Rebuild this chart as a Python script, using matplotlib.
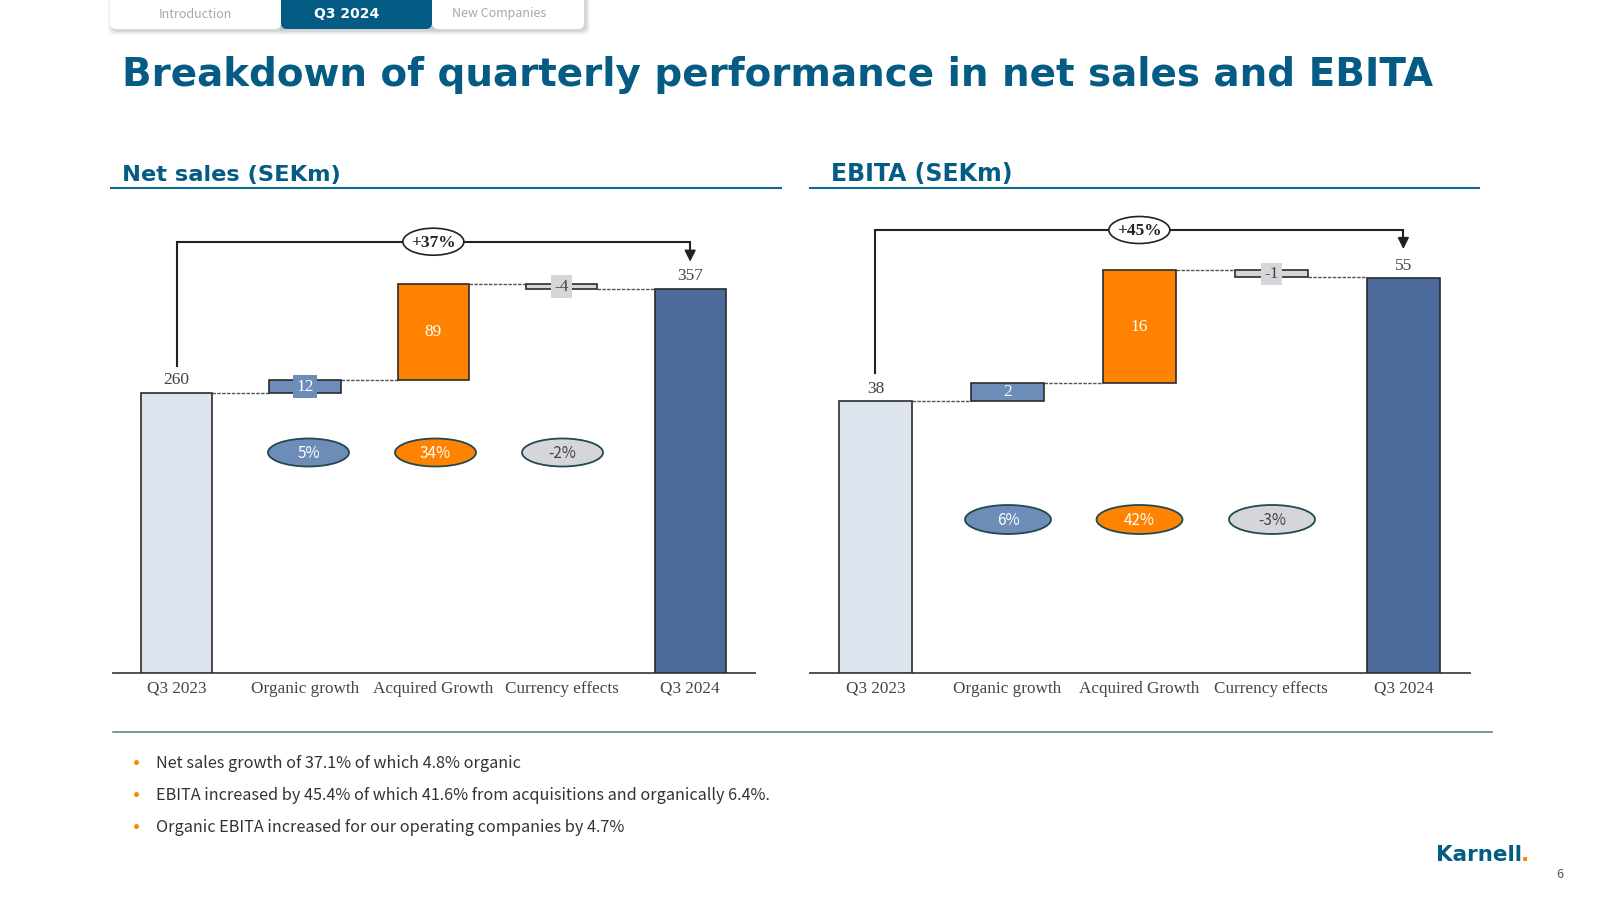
import matplotlib
matplotlib.use('Agg')
import matplotlib.pyplot as plt
from matplotlib.patches import Ellipse, FancyBboxPatch

categories = ['Q3 2023', 'Organic growth', 'Acquired Growth', 'Currency effects', 'Q3 2024']
sales_values = [260, 12, 89, -4, 357]
sales_labels = ['260', '12', '89', '-4', '357']
ebita_values = [37.9, 2.5, 15.8, -1.0, 55.1]
ebita_labels = ['38', '2', '16', '-1', '55']
sales_pct = ['5%', '34%', '-2%']
ebita_pct = ['6%', '42%', '-3%']
sales_total = '+37%'
ebita_total = '+45%'
tabs = ['Introduction', 'Q3 2024', 'New Companies']
bullets = ['Net sales growth of 37.1% of which 4.8% organic',
           'EBITA increased by 45.4% of which 41.6% from acquisitions and organically 6.4%.',
           'Organic EBITA increased for our operating companies by 4.7%']

BLUE = '#045c84'
LIGHT = '#dde4ee'
DARK = '#4d6b9a'
MID = '#6d8cb8'
ORANGE = '#ff8200'
GREY = '#d5d6d9'
SERIF = 'Liberation Serif'
SANS = 'Noto Sans CJK SC'

bar_colors = [LIGHT, MID, ORANGE, GREY, DARK]
text_colors = ['#444444', 'white', 'white', '#444444', '#444444']

fig = plt.figure(figsize=(16, 9), dpi=100)

# page layer in pixel coordinates, for everything that is not a bar
page = fig.add_axes([0, 0, 1, 1], zorder=5)
page.set_xlim(0, 1600)
page.set_ylim(900, 0)
page.axis('off')
page.patch.set_alpha(0)


def waterfall(values, labels, pct, total, left, right, ymax, x_pct, y_pct, pct_w, pct_h, line_y, start_y, arrow_y):
    ax = fig.add_axes([left / 1600, (900 - 672.5) / 900, (right - left) / 1600, (672.5 - 200) / 900])
    ax.set_xlim(-0.495, 4.505)
    ax.set_ylim(0, ymax)
    ax.patch.set_alpha(0)
    for s in ['top', 'left', 'right']:
        ax.spines[s].set_visible(False)
    ax.spines['bottom'].set_color('#444444')
    ax.spines['bottom'].set_linewidth(1.3)
    ax.set_yticks([])
    ax.set_xticks(range(5))
    ax.set_xticklabels(categories, fontfamily=SERIF, fontsize=12.3, color='#444444')
    ax.tick_params(axis='x', length=0, pad=6)

    # running level for the steps in the middle
    level = values[0]
    width = 0.555
    for i, v in enumerate(values):
        if i == 0 or i == 4:
            bottom = 0
            height = v
        else:
            bottom = min(level, level + v)
            height = abs(v)
        ax.bar(i, height, width=width, bottom=bottom, color=bar_colors[i], edgecolor='#2b2b2b', linewidth=1.2, zorder=3)
        # dashed link to the previous bar
        if i > 0:
            ax.plot([i - 1 + width / 2, i - width / 2], [level, level], color='#555555', lw=1, ls=(0, (2.5, 1)), zorder=2)
        if 0 < i < 4:
            level = level + v
        top = bottom + height
        if i == 0 or i == 4:
            ax.annotate(labels[i], (i, top), xytext=(0, 9), textcoords='offset points', ha='center', va='center',
                        family=SERIF, fontsize=12.5, color='#444444')
        else:
            box = None
            if height / ymax < 0.03:
                box = dict(facecolor=bar_colors[i], edgecolor='none', pad=2.2)
            ax.text(i, bottom + height / 2, labels[i], ha='center', va='center', family=SERIF, fontsize=12.5,
                    color=text_colors[i], bbox=box, zorder=4)

    # total growth bracket
    to_px = lambda i: left + (i + 0.495) * (right - left) / 5
    page.plot([to_px(0), to_px(0), to_px(4), to_px(4)], [start_y, line_y, line_y, arrow_y - 10], color='#222222', lw=1.5, solid_joinstyle='miter')
    page.annotate('', xy=(to_px(4), arrow_y), xytext=(to_px(4), arrow_y - 11),
                  arrowprops=dict(arrowstyle='-|>', color='#222222', lw=1.2, mutation_scale=17, shrinkA=0, shrinkB=0))
    page.add_patch(Ellipse((to_px(2), line_y), 61, 27, facecolor='white', edgecolor='#222222', lw=1.2, zorder=4))
    page.text(to_px(2), line_y + 1, total, ha='center', va='center', family=SERIF, fontsize=12.5, fontweight='bold', color='#222222', zorder=5)

    # share of growth ovals
    for i in range(3):
        page.add_patch(Ellipse((x_pct[i], y_pct), pct_w, pct_h, facecolor=bar_colors[i + 1], edgecolor='#1f4a4f', lw=1.3, zorder=4))
        page.text(x_pct[i], y_pct + 1, pct[i], ha='center', va='center', family=SANS, fontsize=11,
                  color=text_colors[i + 1], zorder=5)
    return ax


waterfall(sales_values, sales_labels, sales_pct, sales_total, 113, 755, 439.5, [308.5, 435.5, 562.5], 452.5, 81, 28, 241.7, 365.7, 261.7)
waterfall(ebita_values, ebita_labels, ebita_pct, ebita_total, 810, 1470, 66, [1008, 1139.5, 1272], 519.5, 86, 29, 230, 373, 249)

# tabs at the top, soft shadow first then the tabs with the blue one on top
tab_edges = [(110, 281), (281, 432), (432, 584)]
tab_x = [195, 347, 499]
for x0, x1 in tab_edges:
    for grow, a in [(4, 0.08), (2.5, 0.12), (1, 0.18)]:
        page.add_patch(FancyBboxPatch((x0 + 2 - grow, -12), x1 - x0 + 2 * grow, 43 + grow, boxstyle='round,pad=0,rounding_size=7',
                                      facecolor='#888888', edgecolor='none', alpha=a))
for i in [0, 2, 1]:
    x0, x1 = tab_edges[i]
    page.add_patch(FancyBboxPatch((x0, -12), x1 - x0, 41, boxstyle='round,pad=0,rounding_size=6',
                                  facecolor=BLUE if i == 1 else 'white', edgecolor='none'))
    if i == 1:
        page.text(tab_x[i], 14, tabs[i], ha='center', va='center', family='DejaVu Sans', fontweight='bold', fontsize=10, color='white')
    else:
        page.text(tab_x[i], 14, tabs[i], ha='center', va='center', family=SANS, fontsize=9, color='#a8a8a8')

page.text(122, 86, 'Breakdown of quarterly performance in net sales and EBITA', ha='left', va='baseline',
          family='DejaVu Sans', fontweight='bold', fontsize=28, color=BLUE)
page.text(122, 181, 'Net sales (SEKm)', ha='left', va='baseline', family='DejaVu Sans', fontweight='bold', fontsize=16.2, color=BLUE)
page.text(831, 181, 'EBITA (SEKm)', ha='left', va='baseline', family='DejaVu Sans', fontweight='bold', fontsize=17, color=BLUE)
page.plot([111, 781], [188, 188], color='#0f6a8f', lw=1.5)
page.plot([810, 1479], [188, 188], color='#0f6a8f', lw=1.5)
page.plot([113, 1492], [732, 732], color='#4d7f7f', lw=1.1)

for y, line in zip([762, 794, 826], bullets):
    page.plot([136], [y], marker='o', ms=3.5, color=ORANGE, mec='none')
    page.text(156, y + 1, line, ha='left', va='center', family=SANS, fontsize=11.7, color='#333333')

page.text(1436, 861, 'Karnell', ha='left', va='baseline', family='DejaVu Sans', fontweight='bold', fontsize=15.5, color=BLUE)
page.text(1521, 861, '.', ha='left', va='baseline', family='DejaVu Sans', fontweight='bold', fontsize=15.5, color=ORANGE)
page.text(1560, 875, '6', ha='center', va='center', family=SANS, fontsize=9, color='#555555')

fig.savefig('out.png', dpi=100)
